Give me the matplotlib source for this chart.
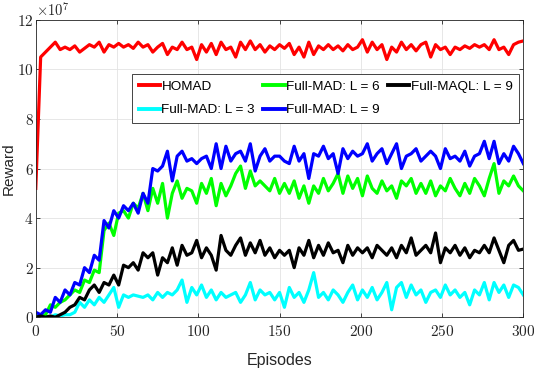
import numpy as np
import matplotlib
matplotlib.use("Agg")
import matplotlib.pyplot as plt
from matplotlib.ticker import FuncFormatter

plt.rcParams['mathtext.fontset'] = 'cm'

# Episodes sampled every 3 episodes
episodes = list(range(0, 301, 3))

# Rewards in units of 1e7
homad = [5.2, 10.5, 10.7, 10.9, 11.1, 10.8, 10.9, 10.8, 10.95, 10.7,
         10.85, 11.0, 10.9, 11.1, 10.7, 11.0, 10.9, 11.05, 10.9, 11.0,
         10.85, 11.1, 10.9, 11.0, 10.7, 10.9, 11.05, 10.6, 10.9, 10.8,
         11.1, 10.8, 10.9, 10.4, 11.0, 10.7, 11.05, 10.6, 11.1, 10.8,
         10.9, 10.5, 11.1, 10.8, 11.15, 10.8, 11.0, 10.7, 10.95, 10.8,
         11.0, 10.85, 11.05, 10.6, 10.9, 10.5, 11.1, 10.6, 10.95, 10.8,
         11.0, 10.8, 10.95, 10.75, 11.0, 10.8, 10.9, 11.2, 10.7, 11.1,
         10.8, 11.0, 10.4, 10.9, 10.7, 11.1, 10.8, 11.0, 10.75, 11.0,
         11.1, 10.5, 11.0, 10.8, 10.9, 10.6, 10.9, 10.8, 10.95, 10.85,
         11.0, 10.9, 11.0, 10.8, 11.2, 10.8, 10.9, 10.6, 11.0, 11.1,
         11.15]

mad_l3 = [0.1, 0.0, 0.05, 0.0, 0.1, 0.05, 0.1, 0.1, 0.2, 0.6,
          0.4, 0.7, 0.5, 0.8, 0.6, 0.9, 1.2, 0.4, 0.9, 0.8,
          0.9, 0.85, 0.8, 0.9, 0.7, 1.0, 0.8, 1.0, 0.9, 1.1,
          1.5, 0.6, 1.2, 0.9, 1.3, 0.8, 1.1, 0.7, 1.0, 0.8,
          0.9, 1.0, 0.6, 0.9, 1.4, 0.7, 1.1, 0.9, 1.0, 0.7,
          1.0, 0.4, 1.2, 0.8, 1.0, 0.6, 1.1, 1.8, 0.8, 1.0,
          0.7, 1.1, 0.9, 0.6, 1.0, 1.3, 0.7, 1.1, 0.8, 1.2,
          0.7, 1.0, 1.4, 0.3, 1.2, 1.4, 0.8, 1.3, 0.9, 1.1,
          0.6, 1.0, 1.1, 0.8, 1.3, 0.9, 1.1, 0.8, 1.0, 0.5,
          1.1, 0.9, 1.4, 0.7, 1.4, 1.0, 1.3, 0.8, 1.3, 1.2,
          0.9]

mad_l6 = [0.0, 0.05, 0.1, 0.5, 0.4, 0.6, 0.7, 0.9, 1.1, 1.0,
          1.5, 1.4, 1.9, 1.8, 3.5, 3.8, 3.3, 4.2, 4.3, 4.0,
          4.6, 4.4, 5.0, 4.3, 5.2, 4.6, 5.4, 4.0, 5.0, 5.5,
          4.8, 5.2, 5.1, 4.6, 5.4, 5.0, 5.6, 4.5, 5.4, 4.9,
          5.3, 5.8, 6.1, 5.2, 5.9, 5.3, 5.5, 5.3, 5.1, 5.6,
          5.0, 5.4, 5.0, 5.5, 4.8, 5.3, 4.6, 5.3, 5.0, 5.6,
          5.1, 5.4, 5.8, 5.0, 5.7, 5.2, 5.6, 4.9, 5.7, 5.2,
          5.0, 5.5, 5.1, 5.3, 4.8, 5.5, 5.3, 5.6, 5.0, 5.4,
          5.0, 5.5, 4.9, 5.3, 5.1, 5.6, 5.2, 4.9, 5.4, 5.0,
          5.6, 5.3, 4.9, 5.6, 6.2, 5.0, 5.5, 5.3, 5.7, 5.3,
          5.1]

mad_l9 = [0.2, 0.1, 0.3, 0.2, 0.8, 0.6, 1.1, 0.9, 1.4, 1.3,
          2.0, 1.8, 2.5, 2.3, 3.9, 3.6, 4.3, 4.0, 4.5, 4.3,
          4.6, 4.2, 5.0, 4.6, 6.0, 5.9, 6.1, 6.7, 5.5, 6.5,
          6.7, 6.3, 6.4, 6.2, 6.4, 6.5, 6.0, 7.0, 6.0, 6.9,
          6.3, 6.6, 6.7, 6.3, 7.0, 5.9, 6.5, 6.8, 6.3, 6.5,
          6.5, 6.3, 6.2, 6.9, 6.3, 6.6, 5.6, 6.6, 6.5, 6.9,
          6.4, 6.6, 5.8, 6.8, 6.4, 6.7, 6.5, 6.6, 7.0, 6.3,
          6.6, 6.8, 6.2, 6.6, 7.0, 6.0, 6.5, 6.6, 6.8, 6.3,
          6.5, 6.7, 6.5, 6.0, 6.8, 6.4, 6.5, 6.3, 6.7, 6.1,
          6.5, 6.6, 7.1, 6.4, 7.1, 6.2, 6.6, 6.3, 6.9, 6.6,
          6.2]

maql_l9 = [0.0, 0.05, 0.0, 0.05, 0.0, 0.1, 0.2, 0.4, 0.5, 0.8,
           0.7, 1.1, 1.3, 1.0, 1.4, 1.3, 1.7, 1.3, 2.1, 2.0,
           2.2, 1.9, 2.6, 2.4, 2.6, 1.7, 2.4, 2.2, 2.8, 2.1,
           2.9, 2.5, 2.6, 3.1, 2.4, 2.8, 2.5, 1.9, 3.3, 2.7,
           2.5, 2.9, 3.2, 2.5, 3.0, 2.6, 3.1, 2.5, 2.8, 2.4,
           2.7, 2.5, 2.7, 2.0, 2.8, 2.5, 3.1, 2.4, 2.9, 2.5,
           3.0, 2.6, 2.7, 2.2, 2.9, 2.5, 2.8, 2.6, 2.8, 2.4,
           2.9, 2.7, 2.5, 2.8, 2.4, 2.9, 2.6, 3.2, 2.5, 2.7,
           2.9, 2.6, 3.4, 2.2, 2.8, 2.6, 2.9, 2.5, 2.8, 2.4,
           2.7, 2.6, 2.9, 2.6, 3.2, 2.7, 2.2, 2.9, 3.1, 2.7,
           2.75]

labels = ["HOMAD", "Full-MAD: L = 3", "Full-MAD: L = 6",
          "Full-MAD: L = 9", "Full-MAQL: L = 9"]
colors = ["#ff0000", "#00ffff", "#00ff00", "#0000ff", "#000000"]
series = [homad, mad_l3, mad_l6, mad_l9, maql_l9]

fig = plt.figure(figsize=(5.34, 3.68), dpi=100)
ax = fig.add_axes([0.067, 0.138, 0.913, 0.808])

handles = []
for data, c, lab in zip(series, colors, labels):
    h, = ax.plot(episodes, data, color=c, lw=2.3, label=lab)
    handles.append(h)

ax.set_xlim(0, 300)
ax.set_ylim(0, 12)
ax.set_xticks([0, 50, 100, 150, 200, 250, 300])
ax.set_yticks([0, 2, 4, 6, 8, 10, 12])
fmt = FuncFormatter(lambda v, p: r'$%d$' % v)
ax.xaxis.set_major_formatter(fmt)
ax.yaxis.set_major_formatter(fmt)
ax.tick_params(direction='in', top=True, right=True, length=3, width=0.6,
               labelsize=11, colors='#262626')
ax.tick_params(axis='y', pad=1.5)
ax.tick_params(axis='x', pad=5)
ax.grid(True, color='#e3e3e3', lw=0.6)
ax.set_axisbelow(True)
for s in ax.spines.values():
    s.set_color('#262626')
    s.set_linewidth(0.6)

ax.text(0.0, 1.005, r'$\times 10^{7}$', transform=ax.transAxes,
        fontsize=10.5, color='#262626', ha='left', va='bottom')

ax.set_xlabel("Episodes", fontsize=11.5, family='Liberation Sans', color='#262626')
ax.xaxis.set_label_coords(0.5, -0.12)
ax.set_ylabel("Reward", fontsize=11, family='Liberation Sans', color='#262626')
ax.yaxis.set_label_coords(-0.041, 0.5)

leg = ax.legend(handles=handles, ncol=3, loc='upper left',
                bbox_to_anchor=(0.197, 0.818),
                prop={'family': 'Liberation Sans', 'size': 9.7},
                handlelength=1.6, handletextpad=0.1, columnspacing=0.6,
                borderpad=0.5, labelspacing=0.8, fancybox=False,
                framealpha=1, edgecolor='#262626', borderaxespad=0)
leg.get_frame().set_linewidth(0.6)
for l in leg.get_lines():
    l.set_linewidth(2.8)

fig.savefig("out.png", dpi=100)
